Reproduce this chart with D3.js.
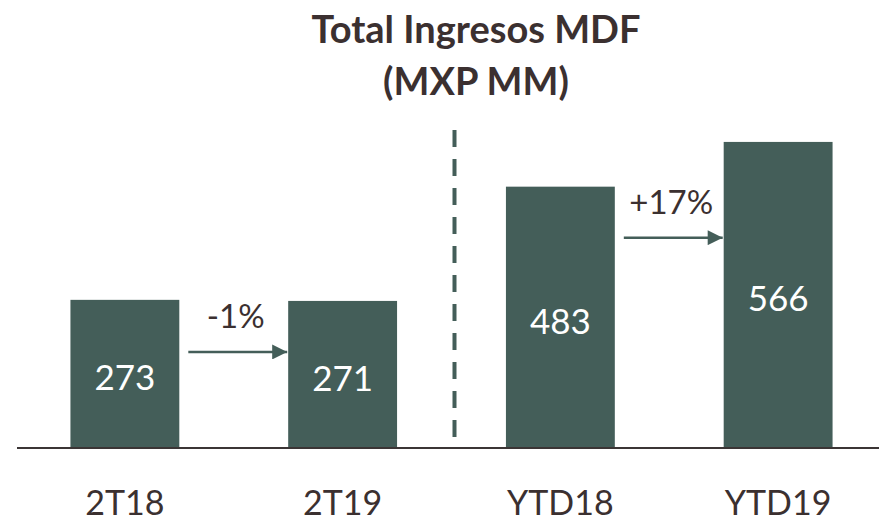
<!DOCTYPE html>
<html>
<head>
<meta charset="utf-8">
<script src="https://cdn.jsdelivr.net/npm/d3@7"></script>
<style>
  body { margin: 0; background: #fff; }
  text { font-family: Lato, "Open Sans", sans-serif; }
</style>
</head>
<body>
<div id="chart"></div>
<script>
"use strict";

var categories = ["2T18", "2T19", "YTD18", "YTD19"];
var values = [273, 271, 483, 566];
var changes = [
  { from: "2T18", to: "2T19", label: "-1%" },
  { from: "YTD18", to: "YTD19", label: "+17%" }
];
var titleLines = ["Total Ingresos MDF", "(MXP MM)"];

var width = 879, height = 524,
    baseY = 447,
    barColor = "#445e59",
    textColor = "#3b3030";

var svg = d3.select("#chart")
  .append("svg")
  .attr("width", width)
  .attr("height", height);

var x = d3.scaleBand()
  .domain(categories)
  .range([16, 887])
  .paddingInner(0.5)
  .paddingOuter(0.25);

var y = d3.scaleLinear()
  .domain([0, 600])
  .range([baseY, baseY - 600 * 0.539]);

// title
svg.append("g").selectAll("text")
  .data(titleLines)
  .enter()
  .append("text")
  .attr("x", 476)
  .attr("y", function(d, i) { return 43 + i * 52; })
  .attr("text-anchor", "middle")
  .attr("font-size", "38px")
  .attr("font-weight", "bold")
  .attr("fill", textColor)
  .text(function(d) { return d; });

// bars
var data = categories.map(function(c, i) { return { cat: c, value: values[i] }; });

svg.append("g").selectAll("rect")
  .data(data)
  .enter()
  .append("rect")
  .attr("x", function(d) { return x(d.cat); })
  .attr("y", function(d) { return y(d.value); })
  .attr("width", x.bandwidth())
  .attr("height", function(d) { return baseY - y(d.value); })
  .attr("fill", barColor);

svg.append("g").selectAll("text")
  .data(data)
  .enter()
  .append("text")
  .attr("x", function(d) { return x(d.cat) + x.bandwidth() / 2; })
  .attr("y", function(d) { return (y(d.value) + baseY) / 2 + 17; })
  .attr("text-anchor", "middle")
  .attr("font-size", "35px")
  .attr("fill", "#fff")
  .text(function(d) { return d.value; });

// baseline
svg.append("line")
  .attr("x1", 17).attr("x2", width)
  .attr("y1", baseY + 1).attr("y2", baseY + 1)
  .attr("stroke", "#3b3535")
  .attr("stroke-width", 2);

// category labels
svg.append("g").selectAll("text")
  .data(categories)
  .enter()
  .append("text")
  .attr("x", function(d) { return x(d) + x.bandwidth() / 2; })
  .attr("y", 515)
  .attr("text-anchor", "middle")
  .attr("font-size", "34px")
  .attr("fill", textColor)
  .text(function(d) { return d; });

// dashed separator
var sepX = (x("2T19") + x.bandwidth() + x("YTD18")) / 2 + 3;
svg.append("line")
  .attr("x1", sepX).attr("x2", sepX)
  .attr("y1", 130).attr("y2", 437)
  .attr("stroke", barColor)
  .attr("stroke-width", 4)
  .attr("stroke-dasharray", "17,12");

// change arrows
svg.append("defs").append("marker")
  .attr("id", "head")
  .attr("viewBox", "0 0 10 10")
  .attr("refX", 10).attr("refY", 5)
  .attr("markerWidth", 6.5).attr("markerHeight", 6)
  .attr("markerUnits", "strokeWidth")
  .attr("orient", "auto")
  .append("path")
  .attr("d", "M0,0L10,5L0,10Z")
  .attr("fill", barColor);

var arrows = svg.append("g").selectAll("g")
  .data(changes)
  .enter()
  .append("g");

function arrowY(d) {
  var v = Math.min(values[categories.indexOf(d.from)], values[categories.indexOf(d.to)]);
  return y(v) + 51;
}

arrows.append("line")
  .attr("x1", function(d) { return x(d.from) + x.bandwidth() + 9; })
  .attr("x2", function(d) { return x(d.to) - 1; })
  .attr("y1", arrowY)
  .attr("y2", arrowY)
  .attr("stroke", barColor)
  .attr("stroke-width", 2.5)
  .attr("marker-end", "url(#head)");

arrows.append("text")
  .attr("x", function(d) { return (x(d.from) + x.bandwidth() + x(d.to)) / 2 + 2; })
  .attr("y", function(d) { return arrowY(d) - 24; })
  .attr("text-anchor", "middle")
  .attr("font-size", "33px")
  .attr("fill", textColor)
  .text(function(d) { return d.label; });
</script>
</body>
</html>
